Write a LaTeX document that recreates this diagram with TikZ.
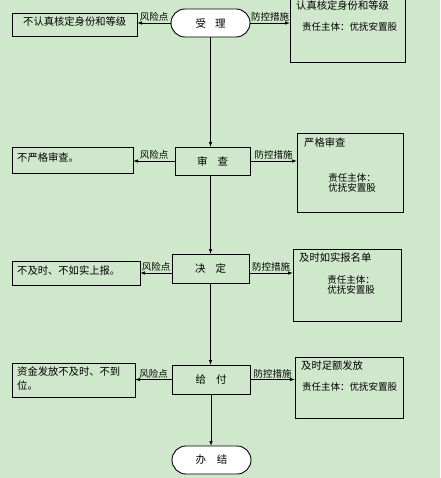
\documentclass[tikz,border=0pt]{standalone}
\usepackage{fontspec}
\setmainfont{Noto Sans CJK SC}
\usetikzlibrary{arrows.meta}
\definecolor{bg}{RGB}{207,232,203}
\begin{document}
\begin{tikzpicture}[x=1pt,y=-1pt,
  font=\fontsize{10.3}{14}\selectfont,
  frame/.style={draw,line width=0.9pt,inner sep=0pt,outer sep=0pt},
  term/.style={frame,fill=white,rounded corners=14pt,minimum width=79pt,minimum height=28pt,font=\fontsize{10.5}{12}\selectfont},
  proc/.style={frame,font=\fontsize{10.5}{12}\selectfont},
  txt/.style={inner sep=0pt,anchor=west},
  small/.style={font=\fontsize{9.5}{10.5}\selectfont},
  lbl/.style={inner sep=1pt,anchor=south,font=\fontsize{9.5}{11}\selectfont},
  arr/.style={line width=0.8pt,-{Latex[length=5pt,width=3.5pt]}}]
\fill[bg] (0,0) rectangle (440,478);
\useasboundingbox (0,0) rectangle (440,478);
\clip (0,0) rectangle (440,478);
% main flow
\node[term] (start) at (210.5,23) {受\hspace{9pt}理};
\node[proc,minimum width=75pt,minimum height=28pt] (shencha) at (212.5,161) {审\hspace{10pt}查};
\node[proc,minimum width=77pt,minimum height=29pt] (jueding) at (210.5,268.5) {决\hspace{10pt}定};
\node[proc,minimum width=78pt,minimum height=29pt] (geifu) at (211,379.5) {给\hspace{10pt}付};
\node[term] (end) at (211.5,460) {办\hspace{11pt}结};
% left boxes
\node[frame,minimum width=125pt,minimum height=23pt] (l1) at (74.5,24.5) {};
\node[frame,minimum width=121pt,minimum height=26pt] (l2) at (72.5,160) {};
\node[frame,minimum width=128pt,minimum height=24pt] (l3) at (76,273) {};
\node[frame,minimum width=123pt,minimum height=34pt] (l4) at (73.5,380) {};
\node[txt] (l1t) at (23,21.5) {不认真核定身份和等级};
\node[txt] (l2t) at (17,157.5) {不严格审查。};
\node[txt] (l3t) at (17,271) {不及时、不如实上报。};
\node[txt,align=left] (l4t) at (17,379) {资金发放不及时、不到\\位。};
% right boxes
\node[frame,minimum width=115pt,minimum height=72pt] (r1) at (347.5,26) {};
\node[frame,minimum width=106pt,minimum height=79pt] (r2) at (350,172.5) {};
\node[frame,minimum width=108pt,minimum height=72pt] (r3) at (347,285) {};
\node[frame,minimum width=108pt,minimum height=61pt] (r4) at (349,387.5) {};
\node[txt] (r1a) at (296,6) {认真核定身份和等级};
\node[txt,small] (r1b) at (302,27) {责任主体：优抚安置股};
\node[txt] (r2a) at (304,142.5) {严格审查};
\node[inner sep=0pt,align=center,small] (r2b) at (352,183) {责任主体：\\优抚安置股};
\node[txt] (r3a) at (299,258) {及时如实报名单};
\node[inner sep=0pt,align=center,small] (r3b) at (351,285) {责任主体：\\优抚安置股};
\node[txt] (r4a) at (301,366) {及时足额发放};
\node[txt,small] (r4b) at (302,387) {责任主体：优抚安置股};
% vertical arrows
\draw[arr] (start.south) -- (start.south |- shencha.north);
\draw[arr] (shencha.south -| start.south) -- (start.south |- jueding.north);
\draw[arr] (jueding.south -| start.south) -- (start.south |- geifu.north);
\draw[arr] (geifu.south) -- (geifu.south |- end.north);
% risk arrows
\draw[arr] (start.west) -- (start.west -| l1.east) node[lbl,midway] {风险点};
\draw[arr] (shencha.west) -- (shencha.west -| l2.east) node[lbl,midway] {风险点};
\draw[arr] (jueding.west |- l3.east) -- (l3.east) node[lbl,midway] {风险点};
\draw[arr] (geifu.west) -- (geifu.west -| l4.east) node[lbl,midway] {风险点};
% control arrows
\draw[arr] (start.east) -- (start.east -| r1.west) node[lbl,midway] {防控措施};
\draw[arr] (shencha.east) -- (shencha.east -| r2.west) node[lbl,midway] {防控措施};
\draw[arr] (jueding.east |- l3.east) -- (r3.west |- l3.east) node[lbl,midway] {防控措施};
\draw[arr] (geifu.east) -- (geifu.east -| r4.west) node[lbl,midway] {防控措施};
\end{tikzpicture}
\end{document}
